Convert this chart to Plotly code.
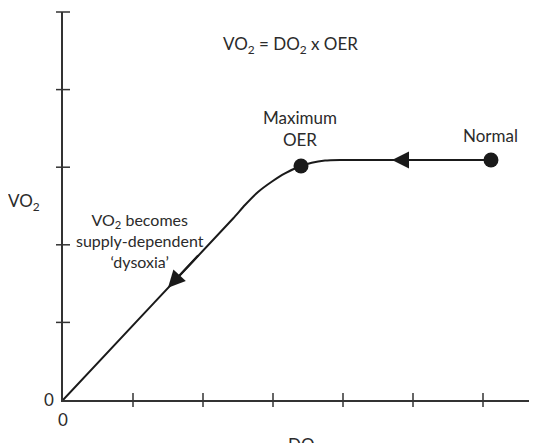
import plotly.graph_objects as go

# ---- data (DO2 on x, VO2 on y, arbitrary units; 1 unit = one tick) ----
curve_do2 = [0.0, 1.30, 2.433, 2.600, 2.790, 2.981, 3.171, 3.400, 3.553, 3.743, 3.957, 4.60, 6.114]
curve_vo2 = [0.0, 1.252, 2.342, 2.513, 2.684, 2.813, 2.921, 3.015, 3.058, 3.086, 3.093, 3.093, 3.093]

point_labels = ["Maximum<br>OER", "Normal"]
point_do2 = [3.400, 6.114]
point_vo2 = [3.015, 3.093]

x_ticks = [1, 2, 3, 4, 5, 6]
y_ticks = [1, 2, 3, 4, 5]

# arrows along the curve: (tail_x, tail_y, tip_x, tip_y)
arrow_tail_x = [4.95, 1.95]
arrow_tail_y = [3.093, 1.882]
arrow_tip_x = [4.70, 1.50]
arrow_tip_y = [3.093, 1.448]

FONT = "Lato"
TXT = "#2b2b2b"
INK = "#1a1a1a"
AX = "#333333"

fig = go.Figure()

# curve
fig.add_trace(go.Scatter(x=curve_do2, y=curve_vo2, mode="lines",
                         line=dict(color=INK, width=2, shape="spline", smoothing=0.5),
                         hoverinfo="skip", cliponaxis=False))
# dots
fig.add_trace(go.Scatter(x=point_do2, y=point_vo2, mode="markers",
                         marker=dict(color=INK, size=15), hoverinfo="skip",
                         cliponaxis=False))
# crossing tick marks
fig.add_trace(go.Scatter(x=x_ticks, y=[0] * len(x_ticks), mode="markers",
                         marker=dict(symbol="line-ns-open", size=10, color=AX,
                                     line=dict(color=AX, width=1.5)),
                         hoverinfo="skip", cliponaxis=False))
fig.add_trace(go.Scatter(x=[0] * len(y_ticks), y=y_ticks, mode="markers",
                         marker=dict(symbol="line-ew-open", size=10, color=AX,
                                     line=dict(color=AX, width=1.5)),
                         hoverinfo="skip", cliponaxis=False))

# arrows
for tx, ty, hx, hy in zip(arrow_tail_x, arrow_tail_y, arrow_tip_x, arrow_tip_y):
    fig.add_annotation(x=hx, y=hy, ax=tx, ay=ty, xref="x", yref="y",
                       axref="x", ayref="y", text="", showarrow=True,
                       arrowhead=2, arrowsize=1.7, arrowwidth=2,
                       arrowcolor=INK, standoff=0, startstandoff=0)

f = dict(family=FONT, size=17, color=TXT)
f16 = dict(family=FONT, size=16, color=TXT)

fig.add_annotation(x=3.257, y=4.575, xref="x", yref="y", showarrow=False,
                   text="VO<sub>2</sub> = DO<sub>2</sub> x OER", font=f)
fig.add_annotation(x=3.386, y=3.505, xref="x", yref="y", showarrow=False,
                   text=point_labels[0], font=f)
fig.add_annotation(x=6.10, y=3.415, xref="x", yref="y", showarrow=False,
                   text=point_labels[1], font=f)
fig.add_annotation(x=1.10, y=2.06, xref="x", yref="y", showarrow=False,
                   text="VO<sub>2</sub> becomes<br>supply-dependent<br>\u2018dysoxia\u2019",
                   font=f16)
# axis titles placed in paper coordinates (outside the data range)
fig.add_annotation(x=-0.081, y=0.5103, xref="paper", yref="paper", showarrow=False,
                   xanchor="center", yanchor="middle",
                   text="VO<sub>2</sub>", font=f)
fig.add_annotation(x=0.502, y=-0.118, xref="paper", yref="paper", showarrow=False,
                   xanchor="center", yanchor="middle",
                   text="DO<sub>2</sub>", font=f)

# page body has an 8px margin: offset margins accordingly
fig.update_layout(
    width=537, height=435,
    margin=dict(l=55, r=0, t=4, b=43),
    paper_bgcolor="white", plot_bgcolor="white",
    showlegend=False,
    font=dict(family=FONT, size=17, color=TXT),
    xaxis=dict(range=[0, 482 / 70], showgrid=False, zeroline=False,
               showline=True, linecolor=AX, linewidth=1.5,
               tickvals=[0], ticktext=["0"], ticks="", ticklabelstandoff=4,
               tickfont=dict(family=FONT, size=17, color=TXT), fixedrange=True),
    yaxis=dict(range=[0, 5], showgrid=False, zeroline=False,
               showline=True, linecolor=AX, linewidth=1.5,
               tickvals=[0], ticktext=["0"], ticks="", ticklabelstandoff=4,
               tickfont=dict(family=FONT, size=17, color=TXT), fixedrange=True),
)

fig.write_html("out.html")
